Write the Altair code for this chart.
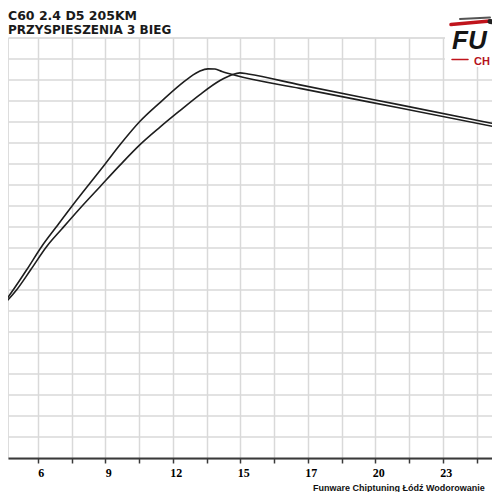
import altair as alt
import pandas as pd

# ---- data ----
# x in axis units (labels 6 ... 23), y in grid units (y labels are not visible)
x_tuned = [4.432, 4.990, 5.553, 6.182, 6.783, 7.442, 8.323, 8.839, 9.469, 10.309, 11.148,
           11.988, 12.407, 12.827, 13.163, 13.457, 13.751, 14.296, 17.025, 21.222, 25.630]
y_tuned = [7.119, 8.000, 8.952, 10.062, 10.976, 11.967, 13.238, 13.976, 14.895, 16.014, 16.905,
           17.748, 18.119, 18.405, 18.510, 18.500, 18.381, 18.200, 17.581, 16.643, 15.657]
x_stock = [4.432, 5.133, 5.721, 6.392, 7.035, 7.832, 8.630, 9.469, 10.309, 11.148, 11.988,
           12.827, 13.667, 14.170, 14.506, 14.842, 17.025, 21.222, 25.630]
y_stock = [7.119, 8.000, 8.952, 10.062, 10.905, 11.929, 12.905, 13.929, 14.905, 15.738, 16.524,
           17.286, 17.952, 18.229, 18.319, 18.262, 17.748, 16.795, 15.795]

tick_labels = ["6", "9", "12", "15", "17", "20", "23"]
title_line1 = "C60 2.4 D5 205KM"
title_line2 = "PRZYSPIESZENIA 3 BIEG"
footer_text = "Funware Chiptuning Łódź Wodorowanie"
logo_top = "FU"
logo_bottom = "CH"

# ---- layout constants ----
X0 = 4.6          # axis value at the first (hidden) gridline
STEP = 1.4167     # axis units per gridline
PX_PER_GRID = 33.75
W, H = 484, 420.5
x_domain = [X0 + STEP * 4 / PX_PER_GRID, X0 + STEP * (4 + W) / PX_PER_GRID]
tick_vals = [round(X0 + STEP * k, 4) for k in range(1, 15)]

full = [""]
for lab in tick_labels:
    full += [lab, ""]
full += ["", ""]
js_arr = "[" + ",".join("'%s'" % s for s in full) + "]"
label_expr = "%s[round((datum.value - %s) / %s)] || ''" % (js_arr, X0, STEP)

df = pd.concat([
    pd.DataFrame({"x": x_tuned, "y": y_tuned, "series": "tuned"}),
    pd.DataFrame({"x": x_stock, "y": y_stock, "series": "stock"}),
])

GRID = "#d9d9d9"

lines = alt.Chart(df).mark_line(color="#1e1e1e", strokeWidth=1.6, clip=True,
                                interpolate="monotone").encode(
    x=alt.X("x:Q",
            scale=alt.Scale(domain=x_domain, nice=False, zero=False),
            axis=alt.Axis(values=tick_vals, title=None, grid=True, gridColor=GRID, gridWidth=1.5,
                          domainColor="#3a3a3a", domainWidth=2, tickColor="#3a3a3a",
                          tickWidth=1.5, tickSize=5, labelExpr=label_expr,
                          labelFont="Liberation Serif", labelFontWeight="bold", labelFontSize=12,
                          labelColor="#000000", labelPadding=4, labelOffset=3,
                          labelOverlap=False, labelFlush=False)),
    y=alt.Y("y:Q",
            scale=alt.Scale(domain=[0, 20], nice=False, zero=True),
            axis=alt.Axis(values=list(range(0, 21)), title=None, labels=False, ticks=False,
                          domain=False, grid=True, gridColor=GRID, gridWidth=1.5)),
    detail="series:N",
)

one = pd.DataFrame({"a": [0]})

def txt(s, x, y, size, font="DejaVu Sans", weight="bold", style="normal", color="#1a1a1a"):
    return alt.Chart(pd.DataFrame({"t": [s]})).mark_text(
        align="left", baseline="alphabetic", font=font, fontSize=size,
        fontWeight=weight, fontStyle=style, color=color
    ).encode(text="t:N", x=alt.value(x), y=alt.value(y))

def rule(x, x2, y, y2, color, width):
    return alt.Chart(one).mark_rule(color=color, strokeWidth=width, strokeCap="round").encode(
        x=alt.value(x), x2=alt.value(x2), y=alt.value(y), y2=alt.value(y2))

logo_bg = alt.Chart(one).mark_rect(color="white").encode(
    x=alt.value(437), x2=alt.value(484), y=alt.value(-29), y2=alt.value(29.5))

layers = [
    lines,
    logo_bg,
    rule(443, 482, -13, -16.5, "#c0141c", 3.5),
    rule(452, 482, -18.5, -20, "#555555", 2),
    rule(482, 492, -16, -15, "#222222", 5),
    txt(logo_top, 444, 11.5, 26, font="Liberation Sans", style="italic", color="#151515"),
    rule(444, 460, 22, 22, "#c0141c", 1.5),
    txt(logo_bottom, 466, 27.5, 11, font="Liberation Sans", color="#b5121b"),
    txt(title_line1, 0, -17.7, 12.5),
    txt(title_line2, 0, -3.5, 12),
    txt(footer_text, 305, 453.5, 9, font="Liberation Sans", color="#111111"),
]

chart = alt.layer(*layers).properties(
    width=W, height=H,
    padding={"left": 0, "top": 29.5, "right": 0, "bottom": 34},
    autosize=alt.AutoSizeParams(type="none"),
).configure_view(strokeWidth=0).configure(background="white")

chart.save("out.html", embed_options={"renderer": "svg", "actions": False})
